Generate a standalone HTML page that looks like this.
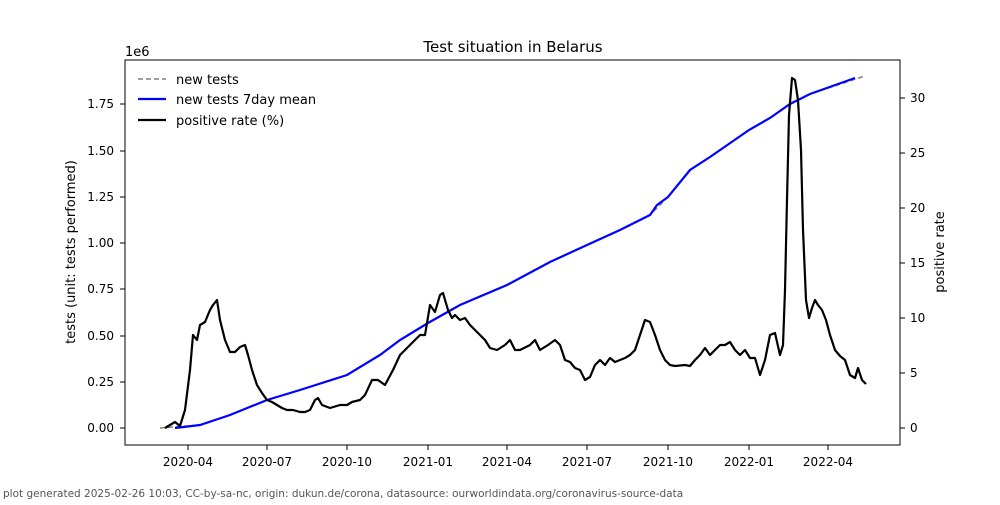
<!DOCTYPE html>
<html><head><meta charset="utf-8"><style>
body{margin:0;background:#fff;}
svg text{font-family:"DejaVu Sans","Liberation Sans",sans-serif;fill:#000;}
</style></head><body>
<svg width="1000" height="500" xmlns="http://www.w3.org/2000/svg">
<rect width="1000" height="500" fill="#fff"/>
<text x="513" y="52" font-size="15" text-anchor="middle">Test situation in Belarus</text>
<text x="125" y="56" font-size="13">1e6</text>
<!-- left ticks -->
<g font-size="12" text-anchor="end" stroke="none">
<text x="114" y="432">0.00</text>
<text x="114" y="386">0.25</text>
<text x="114" y="340">0.50</text>
<text x="114" y="293">0.75</text>
<text x="114" y="247">1.00</text>
<text x="114" y="201">1.25</text>
<text x="114" y="155">1.50</text>
<text x="114" y="108">1.75</text>
</g>
<g stroke="#000">
<line x1="120" x2="125" y1="428" y2="428"/><line x1="120" x2="125" y1="382" y2="382"/>
<line x1="120" x2="125" y1="336" y2="336"/><line x1="120" x2="125" y1="289" y2="289"/>
<line x1="120" x2="125" y1="243" y2="243"/><line x1="120" x2="125" y1="197" y2="197"/>
<line x1="120" x2="125" y1="151" y2="151"/><line x1="120" x2="125" y1="104" y2="104"/>
<line x1="900" x2="905" y1="428" y2="428"/><line x1="900" x2="905" y1="373" y2="373"/>
<line x1="900" x2="905" y1="318" y2="318"/><line x1="900" x2="905" y1="263" y2="263"/>
<line x1="900" x2="905" y1="208" y2="208"/><line x1="900" x2="905" y1="153" y2="153"/>
<line x1="900" x2="905" y1="98" y2="98"/>
<line x1="188" x2="188" y1="445" y2="450"/><line x1="267" x2="267" y1="445" y2="450"/>
<line x1="347" x2="347" y1="445" y2="450"/><line x1="428" x2="428" y1="445" y2="450"/>
<line x1="507" x2="507" y1="445" y2="450"/><line x1="587" x2="587" y1="445" y2="450"/>
<line x1="668" x2="668" y1="445" y2="450"/><line x1="749" x2="749" y1="445" y2="450"/>
<line x1="828" x2="828" y1="445" y2="450"/>
</g>
<g font-size="12">
<text x="910" y="432">0</text><text x="910" y="377">5</text><text x="910" y="322">10</text>
<text x="910" y="267">15</text><text x="910" y="212">20</text><text x="910" y="157">25</text>
<text x="910" y="102">30</text>
</g>
<g font-size="12" text-anchor="middle">
<text x="188" y="466">2020-04</text><text x="267" y="466">2020-07</text><text x="347" y="466">2020-10</text>
<text x="428" y="466">2021-01</text><text x="507" y="466">2021-04</text><text x="587" y="466">2021-07</text>
<text x="668" y="466">2021-10</text><text x="749" y="466">2022-01</text><text x="828" y="466">2022-04</text>
</g>
<text transform="translate(75,252) rotate(-90)" font-size="13" text-anchor="middle">tests (unit: tests performed)</text>
<text transform="translate(944,252) rotate(-90)" font-size="13" text-anchor="middle">positive rate</text>
<text x="3" y="497" font-size="10.5" style="fill:#555">plot generated 2025-02-26 10:03, CC-by-sa-nc, origin: dukun.de/corona, datasource: ourworldindata.org/coronavirus-source-data</text>
<!-- series -->
<polyline fill="none" stroke="#808080" stroke-width="1.5" stroke-dasharray="5,3" points="160,428 200,425 230,415 267,400 300,390 347,375 380,355 400,340 428,323 460,305 507,285 550,262 587,245 620,230 650,215 668,197 690,170 710,157 749,130 770,118 790,104 810,94 865,76"/>
<polyline fill="none" stroke="#0000ff" stroke-width="2.2" points="175,428 200,425 230,415 267,400 300,390 347,375 380,355 400,340 428,323 460,305 507,285 550,262 587,245 620,230 650,215 657,205 668,197 690,170 710,157 749,130 770,118 790,104 810,94 855,78"/>
<polyline fill="none" stroke="#000" stroke-width="2.2" stroke-linejoin="round" points="165,428 175,422 180,426 185,410 190,370 193,335 197,340 200,325 205,322 210,310 213,305 217,300 220,320 225,340 230,352 235,352 240,347 245,345 248,355 252,370 257,385 262,393 267,400 272,402 277,405 282,408 287,410 293,410 300,412 305,412 310,410 315,400 318,398 322,405 330,408 340,405 347,405 352,402 360,400 365,395 372,380 378,380 385,385 393,370 400,355 410,345 420,335 425,335 430,305 435,312 440,295 443,293 448,310 452,318 455,315 460,320 465,318 470,325 475,330 480,335 485,340 490,348 497,350 505,345 510,340 515,350 520,350 530,345 535,340 540,350 548,345 555,340 560,345 565,360 570,362 575,368 580,370 585,380 590,377 595,365 600,360 605,365 610,358 615,362 620,360 625,358 630,355 635,350 640,335 645,320 650,322 655,335 660,350 665,360 670,365 675,366 685,365 690,366 695,360 700,355 705,348 710,355 715,350 720,345 725,345 730,342 735,350 740,355 745,350 750,358 755,358 760,375 765,360 770,335 775,333 780,355 783,345 785,290 787,200 789,115 792,78 795,80 798,100 801,150 803,230 806,300 809,318 812,308 815,300 818,305 822,310 826,320 830,335 835,350 840,356 845,360 850,375 855,378 858,368 862,380 866,384"/>
<rect x="125" y="60" width="775" height="385" fill="none" stroke="#000" stroke-width="1"/>
<!-- legend -->
<line x1="138" x2="166" y1="79" y2="79" stroke="#808080" stroke-width="1.5" stroke-dasharray="5,3"/>
<line x1="138" x2="166" y1="99" y2="99" stroke="#0000ff" stroke-width="2.2"/>
<line x1="138" x2="166" y1="120" y2="120" stroke="#000" stroke-width="2.2"/>
<g font-size="13"><text x="176" y="84">new tests</text><text x="176" y="104">new tests 7day mean</text><text x="176" y="125">positive rate (%)</text></g>
</svg>
</body></html>
